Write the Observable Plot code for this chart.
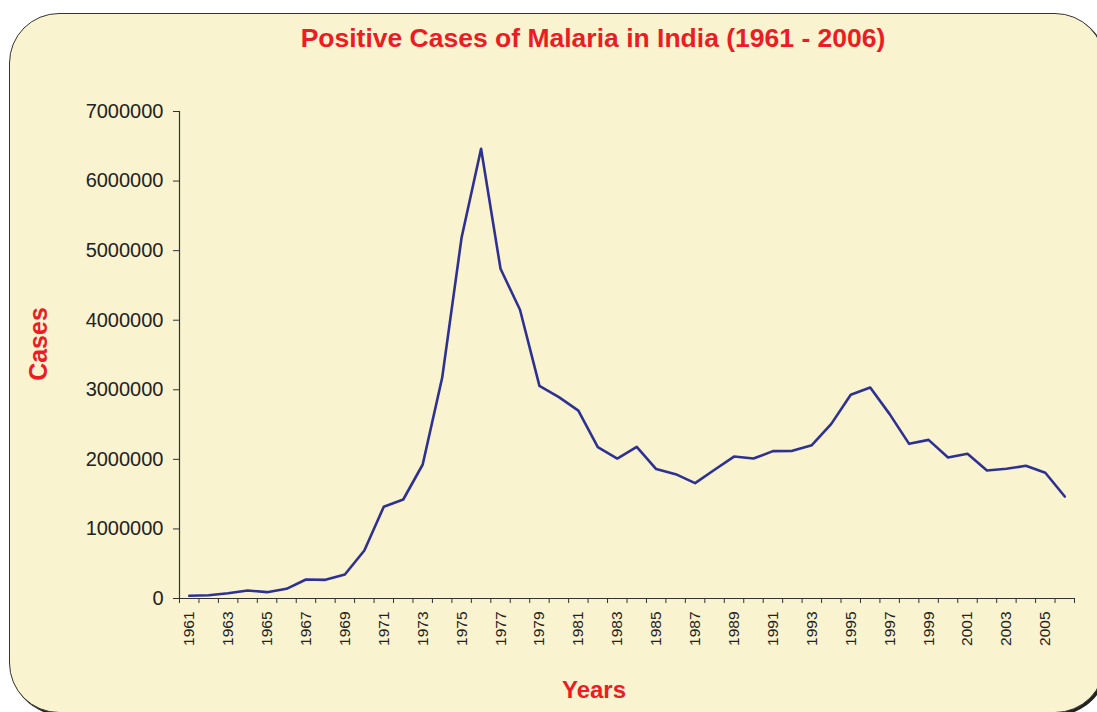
<!DOCTYPE html>
<html>
<head>
<meta charset="utf-8">
<script src="https://cdn.jsdelivr.net/npm/d3@7"></script>
<script src="https://cdn.jsdelivr.net/npm/@observablehq/plot@0.6"></script>
<style>
  html, body { margin: 0; padding: 0; background: #ffffff; }
  #wrap { position: relative; width: 1097px; height: 712px; overflow: hidden; font-family: "Liberation Sans", Arial, sans-serif; }
  #panel { position: absolute; left: 9px; top: 13px; width: 1096px; height: 700px; box-sizing: border-box;
           background: #F9F3D0; border: 1.5px solid #333; border-radius: 50px; box-shadow: 2px 2px 0 #222; }
  #chart { position: absolute; left: 0; top: 0; }
  .title { position: absolute; left: 0; width: 1186px; top: 23px; text-align: center; color: #ED1C24;
           font-weight: bold; font-size: 26.5px; white-space: nowrap; }
  .ylab { position: absolute; left: 38px; top: 344px; transform: translate(-50%, -50%) rotate(-90deg);
          color: #ED1C24; font-weight: bold; font-size: 25px; white-space: nowrap; }
  .xlab { position: absolute; left: 594px; top: 676px; transform: translateX(-50%); color: #ED1C24;
          font-weight: bold; font-size: 24px; white-space: nowrap; }
</style>
</head>
<body>
<div id="wrap">
  <div id="panel"></div>
  <div id="chart"></div>
  <div class="title">Positive Cases of Malaria in India (1961 - 2006)</div>
  <div class="ylab">Cases</div>
  <div class="xlab">Years</div>
</div>
<script>
const years = d3.range(1961, 2007);
const cases = [
  40000, 47000, 76000, 115000, 91000, 139000, 273000, 268000, 345000, 690000,
  1320000, 1423000, 1926000, 3172000, 5190000, 6464000, 4739000, 4150000, 3057000, 2894000,
  2700000, 2175000, 2012000, 2180000, 1860000, 1787000, 1658000, 1850000, 2040000, 2012000,
  2118000, 2122000, 2204000, 2510000, 2928000, 3033000, 2650000, 2223000, 2280000, 2027000,
  2080000, 1840000, 1864000, 1907000, 1807000, 1466000
];
const yTicks = [0, 1000000, 2000000, 3000000, 4000000, 5000000, 6000000, 7000000];
const xLabelYears = d3.range(1961, 2006, 2);
const xBoundaries = d3.range(1960.5, 2007, 1);

const data = years.map((y, i) => ({year: y, cases: cases[i]}));

const chart = Plot.plot({
  width: 1097,
  height: 712,
  marginLeft: 179,
  marginRight: 23,
  marginTop: 111,
  marginBottom: 114,
  style: {background: "transparent", fontFamily: "'Liberation Sans', Arial, sans-serif", color: "#222"},
  x: {type: "linear", domain: [1960.5, 2006.5], axis: null},
  y: {domain: [0, 7000000], axis: null},
  marks: [
    Plot.axisY({ticks: yTicks, tickSize: 6, tickPadding: 10, fontSize: 20, label: null,
                tickFormat: d => String(d), stroke: "#333"}),
    Plot.axisX({ticks: xBoundaries, tickSize: 5, tickFormat: () => "", label: null, stroke: "#333"}),
    Plot.axisX({ticks: xLabelYears, tickSize: 0, tickPadding: 13, tickRotate: -90, fontSize: 15.5,
                tickFormat: d => String(d), label: null}),
    Plot.ruleX([1960.5], {stroke: "#333", strokeWidth: 1.2}),
    Plot.ruleY([0], {stroke: "#333", strokeWidth: 1.2}),
    Plot.line(data, {x: "year", y: "cases", stroke: "#2E3192", strokeWidth: 2.6})
  ]
});
document.getElementById("chart").appendChild(chart);
</script>
</body>
</html>
